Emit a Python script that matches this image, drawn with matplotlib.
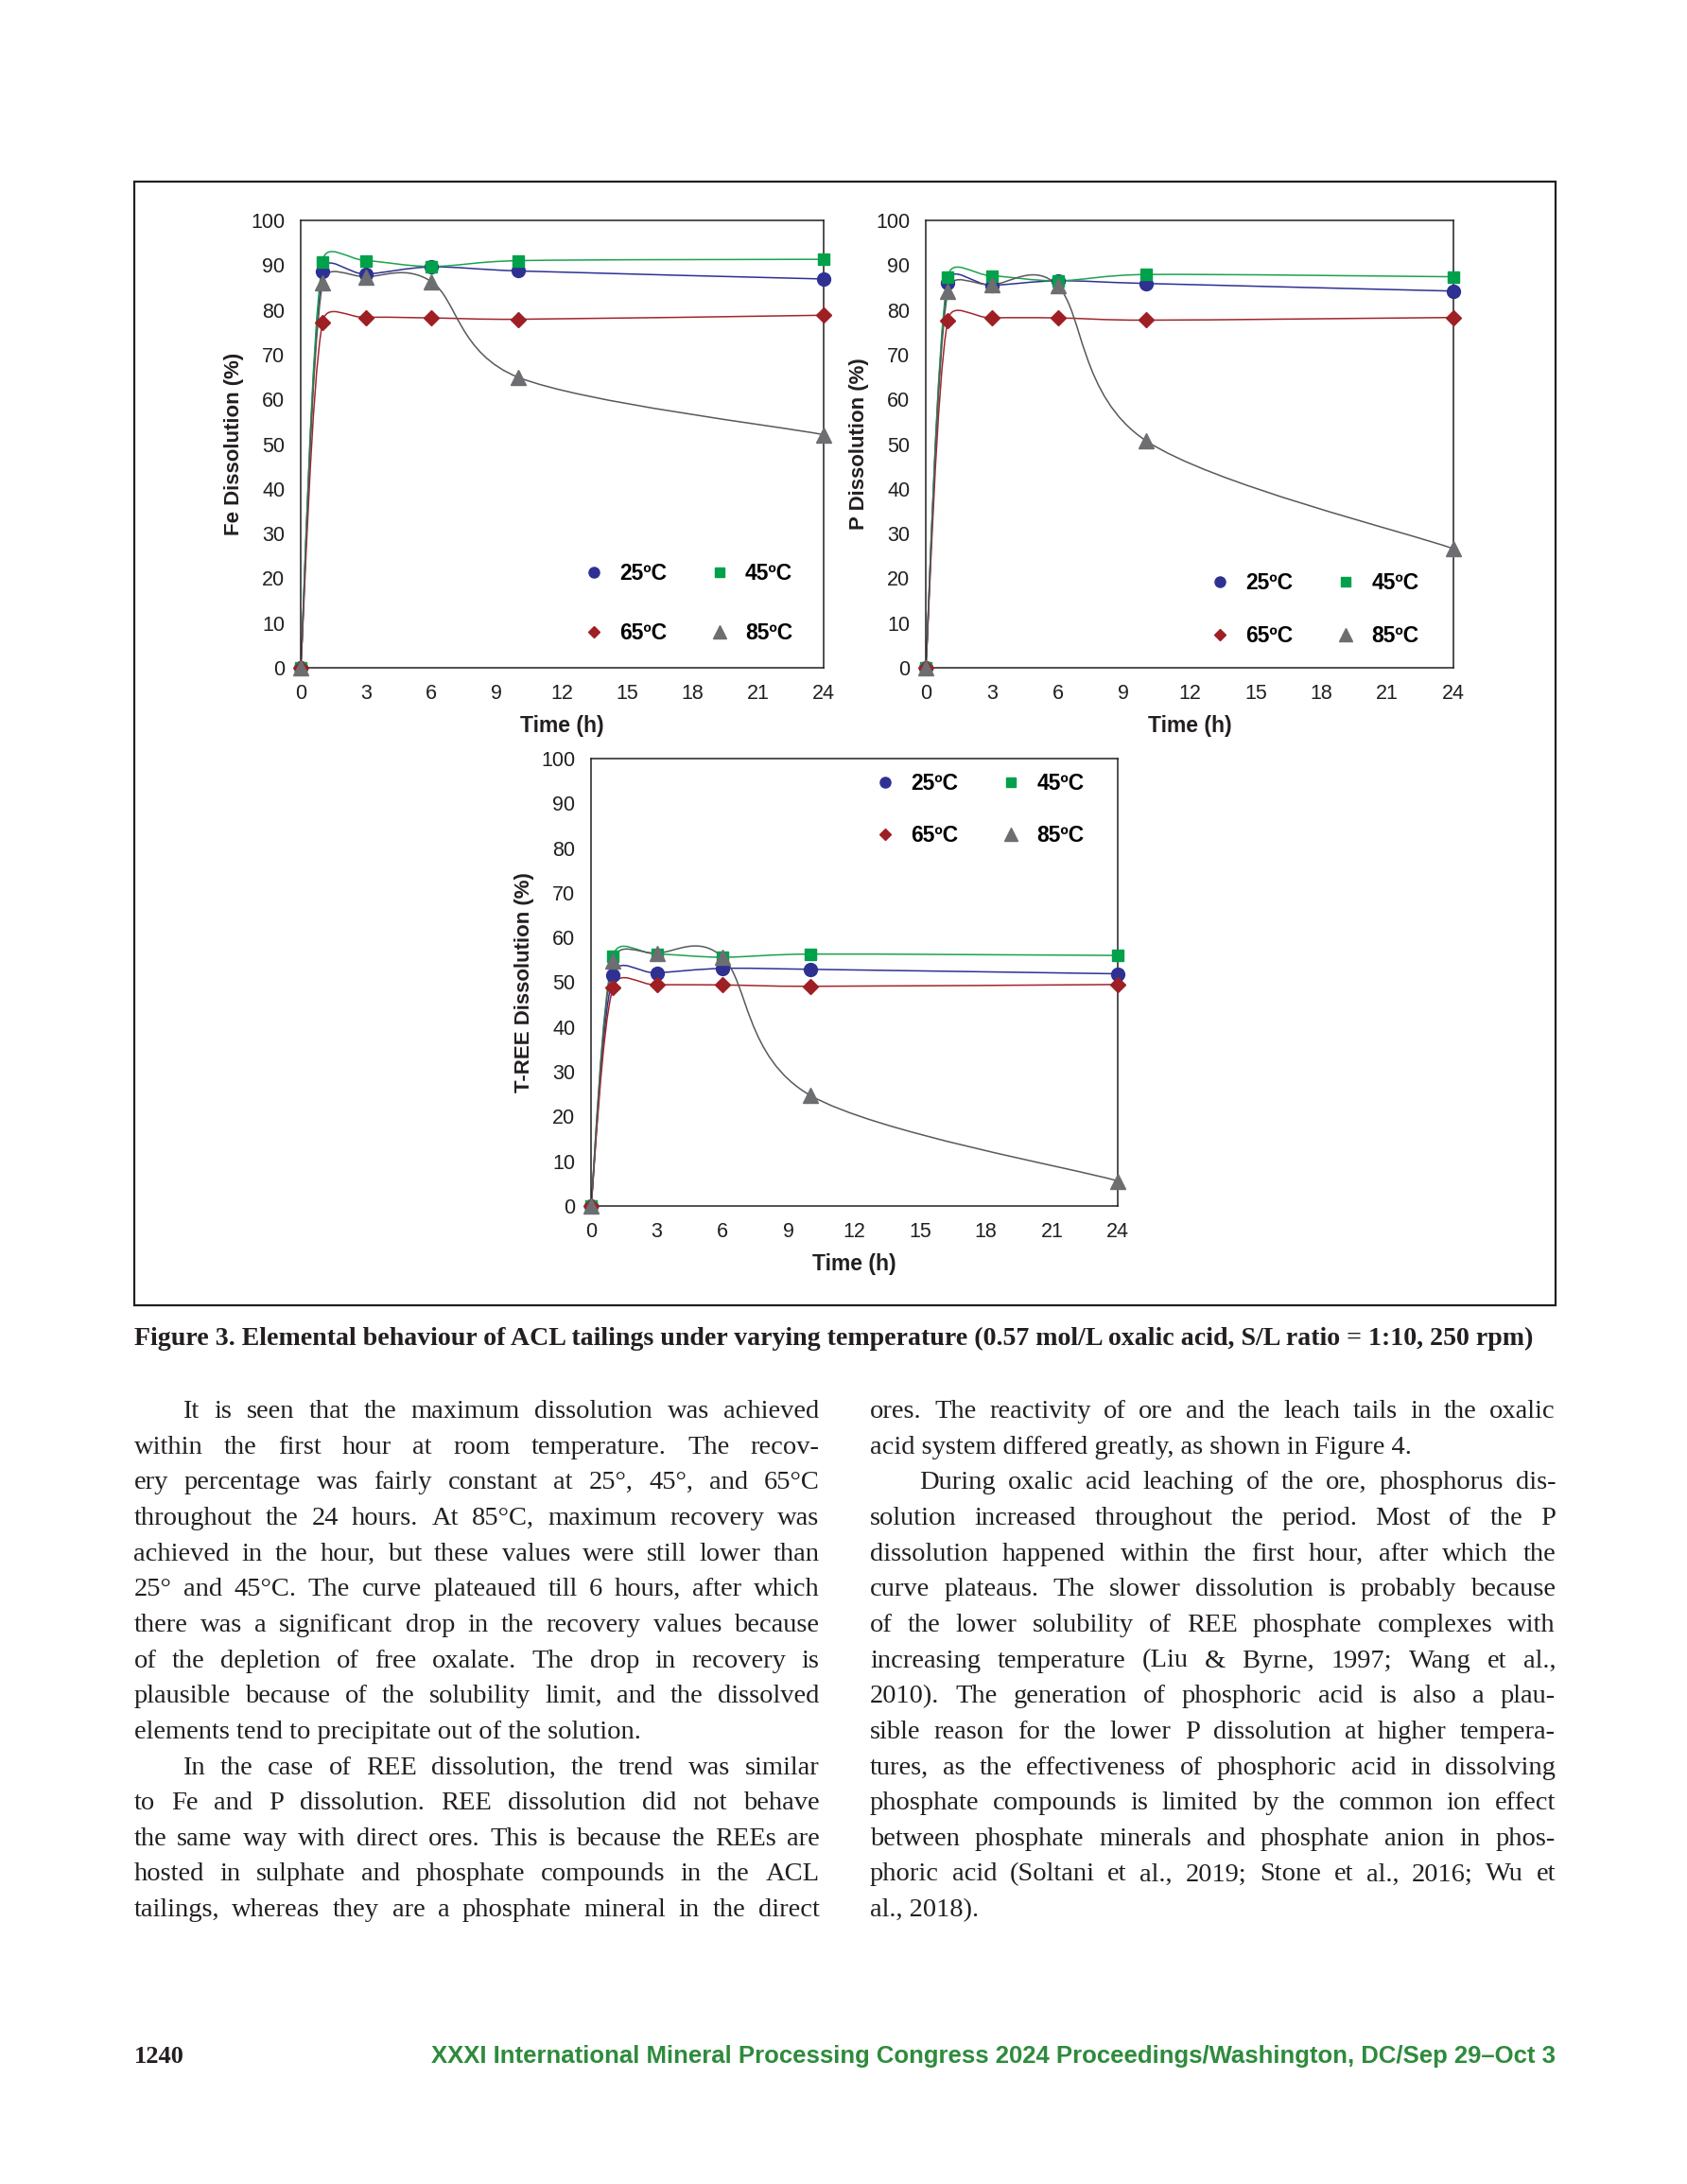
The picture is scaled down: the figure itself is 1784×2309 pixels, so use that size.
import matplotlib
matplotlib.use('Agg')
import matplotlib.pyplot as plt
import numpy as np
from matplotlib.path import Path
from matplotlib.patches import PathPatch, Rectangle

# Page size in pixels
W, H = 1784, 2309
DPI = 100

# Data (time in h, dissolution in %)
hours = [0, 1, 3, 6, 10, 24]
temp_labels = ['25ºC', '45ºC', '65ºC', '85ºC']

fe_25 = [0, 88.5, 88.0, 89.6, 88.7, 86.9]
fe_45 = [0, 90.8, 91.0, 89.7, 91.0, 91.3]
fe_65 = [0, 77.2, 78.3, 78.2, 77.9, 78.8]
fe_85 = [0, 86.0, 87.4, 86.3, 64.9, 52.1]

p_25 = [0, 86.0, 85.5, 86.5, 85.9, 84.2]
p_45 = [0, 87.3, 87.6, 86.5, 87.9, 87.4]
p_65 = [0, 77.6, 78.2, 78.2, 77.7, 78.3]
p_85 = [0, 84.2, 85.6, 85.4, 50.8, 26.6]

ree_25 = [0, 51.6, 52.1, 53.1, 52.9, 51.9]
ree_45 = [0, 55.8, 56.3, 55.6, 56.3, 56.0]
ree_65 = [0, 48.8, 49.4, 49.4, 49.1, 49.5]
ree_85 = [0, 54.8, 56.5, 55.6, 24.7, 5.6]

x_ticks = [0, 3, 6, 9, 12, 15, 18, 21, 24]
y_ticks = [0, 10, 20, 30, 40, 50, 60, 70, 80, 90, 100]

caption = ('Figure 3. Elemental behaviour of ACL tailings under varying temperature '
           '(0.57 mol/L oxalic acid, S/L ratio = 1:10, 250 rpm)')

left_col = [
    ('It is seen that the maximum dissolution was achieved', 'first'),
    ('within the first hour at room temperature. The recov-', ''),
    ('ery percentage was fairly constant at 25°, 45°, and 65°C', ''),
    ('throughout the 24 hours. At 85°C, maximum recovery was', ''),
    ('achieved in the hour, but these values were still lower than', ''),
    ('25° and 45°C. The curve plateaued till 6 hours, after which', ''),
    ('there was a significant drop in the recovery values because', ''),
    ('of the depletion of free oxalate. The drop in recovery is', ''),
    ('plausible because of the solubility limit, and the dissolved', ''),
    ('elements tend to precipitate out of the solution.', 'last'),
    ('In the case of REE dissolution, the trend was similar', 'first'),
    ('to Fe and P dissolution. REE dissolution did not behave', ''),
    ('the same way with direct ores. This is because the REEs are', ''),
    ('hosted in sulphate and phosphate compounds in the ACL', ''),
    ('tailings, whereas they are a phosphate mineral in the direct', ''),
]
right_col = [
    ('ores. The reactivity of ore and the leach tails in the oxalic', ''),
    ('acid system differed greatly, as shown in Figure 4.', 'last'),
    ('During oxalic acid leaching of the ore, phosphorus dis-', 'first'),
    ('solution increased throughout the period. Most of the P', ''),
    ('dissolution happened within the first hour, after which the', ''),
    ('curve plateaus. The slower dissolution is probably because', ''),
    ('of the lower solubility of REE phosphate complexes with', ''),
    ('increasing temperature (Liu & Byrne, 1997; Wang et al.,', ''),
    ('2010). The generation of phosphoric acid is also a plau-', ''),
    ('sible reason for the lower P dissolution at higher tempera-', ''),
    ('tures, as the effectiveness of phosphoric acid in dissolving', ''),
    ('phosphate compounds is limited by the common ion effect', ''),
    ('between phosphate minerals and phosphate anion in phos-', ''),
    ('phoric acid (Soltani et al., 2019; Stone et al., 2016; Wu et', ''),
    ('al., 2018).', 'last'),
]

footer_page = '1240'
footer_text = 'XXXI International Mineral Processing Congress 2024 Proceedings/Washington, DC/Sep 29–Oct 3'

# Styles
ink = '#231F20'
marker_col = ['#2E3192', '#00A14B', '#9E1F24', '#6D6E71']
line_col = ['#2E3192', '#1DA24F', '#A1262B', '#58595B']
markers = ['o', 's', 'D', '^']
msizes = [10, 9, 8, 12]
sans = 'Liberation Sans'
serif = 'Liberation Serif'


def smooth_path(ax, x, y):
    # Excel-like smoothed line: Catmull-Rom Bezier segments, control arms
    # limited to half the segment length (worked out in screen space)
    pts = ax.transData.transform(np.column_stack([x, y]).astype(float))
    n = len(pts)
    verts = [pts[0]]
    codes = [Path.MOVETO]

    def arm(vec, seg):
        lim = 0.5 * np.hypot(*seg)
        ln = np.hypot(*vec)
        return vec * (lim / ln) if ln > lim else vec

    for i in range(n - 1):
        p0 = pts[i - 1] if i > 0 else pts[i]
        p1 = pts[i]
        p2 = pts[i + 1]
        p3 = pts[i + 2] if i + 2 < n else pts[i + 1]
        seg = p2 - p1
        c1 = p1 + arm((p2 - p0) / 6, seg)
        c2 = p2 - arm((p3 - p1) / 6, seg)
        verts += [c1, c2, p2]
        codes += [Path.CURVE4] * 3
    verts = ax.transData.inverted().transform(np.array(verts))
    return Path(verts, codes)


def px_axes(l, t, r, b):
    return fig.add_axes([l / W, 1 - b / H, (r - l) / W, (b - t) / H])


def draw_chart(ax, series, ylabel, leg_anchor, leg_spacing):
    ax.set_xlim(0, 24)
    ax.set_ylim(0, 100)
    for i, vals in enumerate(series):
        ax.add_patch(PathPatch(smooth_path(ax, hours, vals), fill=False,
                               ec=line_col[i], lw=1.1, zorder=2))
    for i, vals in enumerate(series):
        ax.plot(hours, vals, linestyle='none', marker=markers[i], ms=msizes[i],
                mfc=marker_col[i], mec=marker_col[i], label=temp_labels[i],
                zorder=3, clip_on=False)
    ax.set_xticks(x_ticks)
    ax.set_yticks(y_ticks)
    ax.tick_params(length=0, labelsize=15.5, labelcolor=ink, pad=12)
    for lab in ax.get_xticklabels() + ax.get_yticklabels():
        lab.set_family(sans)
    for sp in ax.spines.values():
        sp.set_color(ink)
        sp.set_linewidth(1.1)
    ax.set_facecolor('none')
    ax.set_xlabel('Time (h)', fontsize=16.5, fontweight='bold', family=sans,
                  color=ink, labelpad=9)
    ax.set_ylabel(ylabel, fontsize=16, fontweight='bold', family=sans,
                  color=ink, labelpad=5)
    h, l = ax.get_legend_handles_labels()
    order = [0, 2, 1, 3]
    ax.legend([h[k] for k in order], [l[k] for k in order], ncol=2,
              loc='upper left', bbox_to_anchor=leg_anchor, frameon=False,
              borderpad=0, borderaxespad=0, handlelength=0.8,
              handletextpad=0.8, columnspacing=2.0, labelspacing=leg_spacing,
              markerscale=0.8,
              prop={'family': sans, 'weight': 'bold', 'size': 16.5})


fig = plt.figure(figsize=(W / DPI, H / DPI), dpi=DPI)
page = fig.add_axes([0, 0, 1, 1])
page.set_xlim(0, W)
page.set_ylim(H, 0)
page.axis('off')

# figure frame
page.add_patch(Rectangle((141.5, 192), 1645 - 141.5, 1380 - 192, fill=False,
                         lw=1.6, ec=ink))

ax1 = px_axes(318, 233, 871, 706)
draw_chart(ax1, [fe_25, fe_45, fe_65, fe_85], 'Fe Dissolution (%)',
           (0.544, 0.235), 1.75)
ax2 = px_axes(979, 233, 1537, 706)
draw_chart(ax2, [p_25, p_45, p_65, p_85], 'P Dissolution (%)',
           (0.541, 0.213), 1.45)
ax3 = px_axes(625, 802, 1182, 1275)
draw_chart(ax3, [ree_25, ree_45, ree_65, ree_85], 'T-REE Dissolution (%)',
           (0.542, 0.968), 1.4)

renderer = fig.canvas.get_renderer()


def text_width(s, **kw):
    t = page.text(0, 0, s, **kw)
    w = t.get_window_extent(renderer).width
    t.remove()
    return w


def fit_text(x, y, s, width, base_size, **kw):
    w = text_width(s, fontsize=base_size, **kw)
    page.text(x, y, s, fontsize=base_size * width / w, va='baseline', **kw)


# caption
fit_text(141.5, 1422, caption, 1483, 17, family=serif, fontweight='bold', color=ink)

# body text, justified
body_kw = dict(family=serif, fontsize=20.5, color=ink)
indent = 52
line_gap = 37.65


def draw_column(lines, x0, x1, y0):
    for i, (line, kind) in enumerate(lines):
        y = y0 + i * line_gap
        xs = x0 + (indent if kind == 'first' else 0)
        words = line.split()
        if kind == 'last' or len(words) < 2:
            page.text(xs, y, line, va='baseline', **body_kw)
            continue
        widths = [text_width(w_, **body_kw) for w_ in words]
        gap = (x1 - xs - sum(widths)) / (len(words) - 1)
        x = xs
        for w_, wd in zip(words, widths):
            page.text(x, y, w_, va='baseline', **body_kw)
            x += wd + gap


draw_column(left_col, 141.5, 866.5, 1499)
draw_column(right_col, 920, 1645, 1499)

# footer
page.text(141.5, 2181, footer_page, family=serif, fontweight='bold',
          fontsize=19, color=ink, va='baseline')
w_f = text_width(footer_text, family=sans, fontweight='bold', fontsize=17)
page.text(1645, 2181, footer_text, family=sans, fontweight='bold',
          fontsize=17 * 1193 / w_f, color='#2E8B3C', va='baseline', ha='right')

fig.savefig('out.png', dpi=DPI)
